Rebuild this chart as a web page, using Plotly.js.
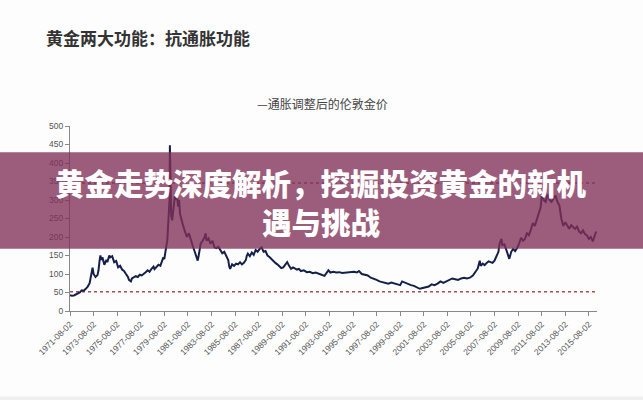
<!DOCTYPE html>
<html>
<head>
<meta charset="utf-8">
<script src="https://cdn.plot.ly/plotly-3.0.1.min.js"></script>
<style>html,body{margin:0;padding:0;background:#fdfdfd;}#chart{width:643px;height:400px;}</style>
</head>
<body>
<div id="chart"></div>
<script>
// Inflation-adjusted London gold price
var dates = [
"1971-08-02","1971-10-01","1971-12-01","1972-02-01","1972-04-01","1972-06-01","1972-08-01","1972-10-01","1972-12-01",
"1973-02-01","1973-04-01","1973-06-01","1973-07-01","1973-08-01","1973-10-01","1973-12-01",
"1974-01-01","1974-02-01","1974-03-01","1974-04-01","1974-05-01","1974-07-01","1974-09-01","1974-10-01","1974-12-01",
"1975-01-01","1975-03-01","1975-05-01","1975-07-01","1975-09-01","1975-11-01",
"1976-01-01","1976-03-01","1976-05-01","1976-07-01","1976-08-01","1976-10-01","1976-11-01",
"1977-01-01","1977-03-01","1977-05-01","1977-07-01","1977-09-01","1977-11-01",
"1978-01-01","1978-03-01","1978-05-01","1978-07-01","1978-09-01","1978-10-01","1978-12-01",
"1979-02-01","1979-04-01","1979-06-01","1979-07-01","1979-08-01","1979-09-01","1979-10-01","1979-11-01","1979-12-01",
"1980-01-10","1980-01-21","1980-02-01","1980-03-01","1980-04-01","1980-05-01","1980-06-01","1980-07-01","1980-08-01","1980-09-01","1980-10-01","1980-11-01","1980-12-01",
"1981-01-01","1981-02-01","1981-03-01","1981-05-01","1981-07-01","1981-09-01","1981-11-01",
"1982-01-01","1982-03-01","1982-05-01","1982-06-01","1982-07-01","1982-08-01","1982-09-01","1982-11-01",
"1983-01-01","1983-02-01","1983-03-01","1983-05-01","1983-07-01","1983-09-01","1983-11-01",
"1984-01-01","1984-03-01","1984-05-01","1984-07-01","1984-09-01","1984-11-01",
"1985-01-01","1985-02-01","1985-03-01","1985-05-01","1985-07-01","1985-09-01","1985-11-01",
"1986-01-01","1986-03-01","1986-05-01","1986-07-01","1986-08-01","1986-09-01","1986-11-01",
"1987-01-01","1987-03-01","1987-05-01","1987-07-01","1987-09-01","1987-11-01",
"1988-01-01","1988-03-01","1988-05-01","1988-07-01","1988-09-01","1988-11-01",
"1989-01-01","1989-03-01","1989-05-01","1989-07-01","1989-09-01","1989-11-01",
"1990-01-01","1990-03-01","1990-05-01","1990-07-01","1990-09-01","1990-11-01",
"1991-01-01","1991-03-01","1991-06-01","1991-09-01","1991-12-01",
"1992-03-01","1992-06-01","1992-09-01","1992-12-01",
"1993-03-01","1993-05-01","1993-07-01","1993-09-01","1993-12-01",
"1994-03-01","1994-06-01","1994-09-01","1994-12-01",
"1995-03-01","1995-06-01","1995-09-01","1995-12-01",
"1996-02-01","1996-05-01","1996-08-01","1996-11-01",
"1997-02-01","1997-05-01","1997-08-01","1997-11-01",
"1998-02-01","1998-05-01","1998-08-01","1998-11-01",
"1999-02-01","1999-05-01","1999-08-01","1999-10-01",
"2000-01-01","2000-04-01","2000-07-01","2000-10-01",
"2001-01-01","2001-04-01","2001-07-01","2001-10-01",
"2002-01-01","2002-04-01","2002-07-01","2002-10-01",
"2003-01-01","2003-04-01","2003-07-01","2003-10-01",
"2004-01-01","2004-04-01","2004-07-01","2004-10-01",
"2005-01-01","2005-04-01","2005-07-01","2005-10-01",
"2006-01-01","2006-03-01","2006-05-01","2006-06-01","2006-08-01","2006-10-01","2006-12-01",
"2007-02-01","2007-04-01","2007-06-01","2007-08-01","2007-10-01","2007-12-01",
"2008-01-01","2008-03-01","2008-04-01","2008-06-01","2008-08-01","2008-10-01","2008-11-01",
"2009-01-01","2009-03-01","2009-05-01","2009-07-01","2009-09-01","2009-11-01",
"2010-01-01","2010-03-01","2010-05-01","2010-07-01","2010-09-01","2010-11-01",
"2011-01-01","2011-03-01","2011-05-01","2011-07-01","2011-08-01","2011-09-01","2011-10-01","2011-12-01",
"2012-02-01","2012-04-01","2012-06-01","2012-08-01","2012-10-01","2012-12-01",
"2013-02-01","2013-04-01","2013-06-01","2013-08-01","2013-10-01","2013-12-01",
"2014-02-01","2014-04-01","2014-06-01","2014-08-01","2014-10-01","2014-12-01",
"2015-02-01","2015-04-01","2015-06-01","2015-08-01","2015-10-01","2015-12-01",
"2016-02-01","2016-03-15"
];
var prices = [
43,41,42,44,46,50,56,55,60,
66,75,98,117,100,92,97,
110,135,150,138,145,125,138,132,150,
145,148,132,135,118,122,
112,108,100,92,84,80,88,
90,94,92,98,96,102,
105,110,106,114,120,113,118,
125,122,135,145,140,165,175,190,230,
300,448,330,260,245,270,300,318,300,310,282,300,262,
250,240,232,215,200,210,190,
175,160,145,136,150,168,182,190,
200,210,190,196,182,190,172,
170,174,165,156,160,150,
138,120,114,126,122,128,126,
132,126,130,138,150,155,148,
158,152,165,160,168,172,
160,162,150,146,140,136,
130,126,120,116,118,126,
132,122,114,118,116,112,
114,108,110,105,106,
102,104,100,98,
95,102,110,104,106,
104,105,103,104,
103,104,106,104,
108,100,98,96,
90,88,84,80,
78,76,74,77,
74,72,70,80,
76,72,70,68,
64,60,62,64,
66,72,70,74,
80,76,80,84,
88,86,84,88,
90,88,90,96,
106,115,136,122,128,124,130,
134,132,130,136,150,160,
180,195,178,180,165,150,141,
160,168,162,170,182,198,
190,195,210,205,220,238,
230,245,260,280,310,326,300,295,
315,300,295,302,312,295,
285,250,230,240,232,222,
232,228,222,228,215,210,
218,208,205,195,200,188,
205,215
];
var refDates = ["1971-08-02","2016-04-10"];
var lowLevel = [52,52];
var highLevel = [346,346];
var legendText = "—通胀调整后的伦敦金价";
var pageTitle = "黄金两大功能：抗通胀功能";
var bannerLine1 = "黄金走势深度解析，挖掘投资黄金的新机";
var bannerLine2 = "遇与挑战";

var traces = [
  {x: refDates, y: lowLevel, mode: "lines", line: {color: "#a8504e", width: 1.3, dash: "dot"}, hoverinfo: "skip"},
  {x: refDates, y: highLevel, mode: "lines", line: {color: "#a8504e", width: 1.3, dash: "dot"}, hoverinfo: "skip"},
  {x: dates, y: prices, mode: "lines", line: {color: "#14204a", width: 2}}
];

var tickFont = {family: "Liberation Sans, Arial, sans-serif", size: 8.5, color: "#555"};
var layout = {
  width: 643, height: 400,
  paper_bgcolor: "#fdfdfd", plot_bgcolor: "rgba(0,0,0,0)",
  showlegend: false,
  margin: {l: 70, r: 46, t: 126, b: 89},
  xaxis: {
    type: "date",
    range: ["1971-08-02", "2016-04-10"],
    tick0: "1971-08-02", dtick: "M24",
    tickformat: "%Y-%m-%d",
    tickangle: -45,
    ticks: "outside", ticklen: 4, tickcolor: "#888",
    showline: true, linecolor: "#888", linewidth: 1,
    showgrid: false, zeroline: false,
    tickfont: tickFont
  },
  yaxis: {
    range: [0, 500], dtick: 50,
    ticks: "outside", ticklen: 4, tickcolor: "#888",
    showline: true, linecolor: "#888", linewidth: 1,
    showgrid: false, zeroline: false,
    tickfont: tickFont
  },
  shapes: [
    {type: "rect", xref: "paper", yref: "paper", layer: "above",
     x0: -70/527, x1: (643-70)/527, y0: (310-248)/184, y1: (310-152)/184,
     fillcolor: "rgba(128,48,88,0.78)", line: {width: 0}},
    {type: "rect", xref: "paper", yref: "paper", layer: "below",
     x0: -70/527, x1: (643-70)/527, y0: (310-400)/184, y1: (310-395)/184,
     fillcolor: "#efefef", line: {width: 0}}
  ],
  annotations: [
    {text: "<b>" + pageTitle + "</b>", xref: "paper", yref: "paper",
     x: (44-70)/527, y: (310-38)/184, xanchor: "left", yanchor: "middle", showarrow: false,
     font: {family: "Noto Sans CJK SC", size: 17, color: "#333"}},
    {text: legendText, xref: "paper", yref: "paper",
     x: (322-70)/527, y: (310-104)/184, xanchor: "center", yanchor: "middle", showarrow: false,
     font: {family: "Noto Sans CJK SC", size: 12, color: "#444"}},
    {text: bannerLine1, xref: "paper", yref: "paper",
     x: (321-70)/527, y: (310-182)/184, xanchor: "center", yanchor: "middle", showarrow: false,
     font: {family: "Noto Sans CJK SC", size: 29.5, color: "#ffffff", weight: 900}},
    {text: bannerLine2, xref: "paper", yref: "paper",
     x: (321-70)/527, y: (310-220)/184, xanchor: "center", yanchor: "middle", showarrow: false,
     font: {family: "Noto Sans CJK SC", size: 29.5, color: "#ffffff", weight: 900}}
  ]
};

Plotly.newPlot("chart", traces, layout, {staticPlot: true, displayModeBar: false});
</script>
</body>
</html>
